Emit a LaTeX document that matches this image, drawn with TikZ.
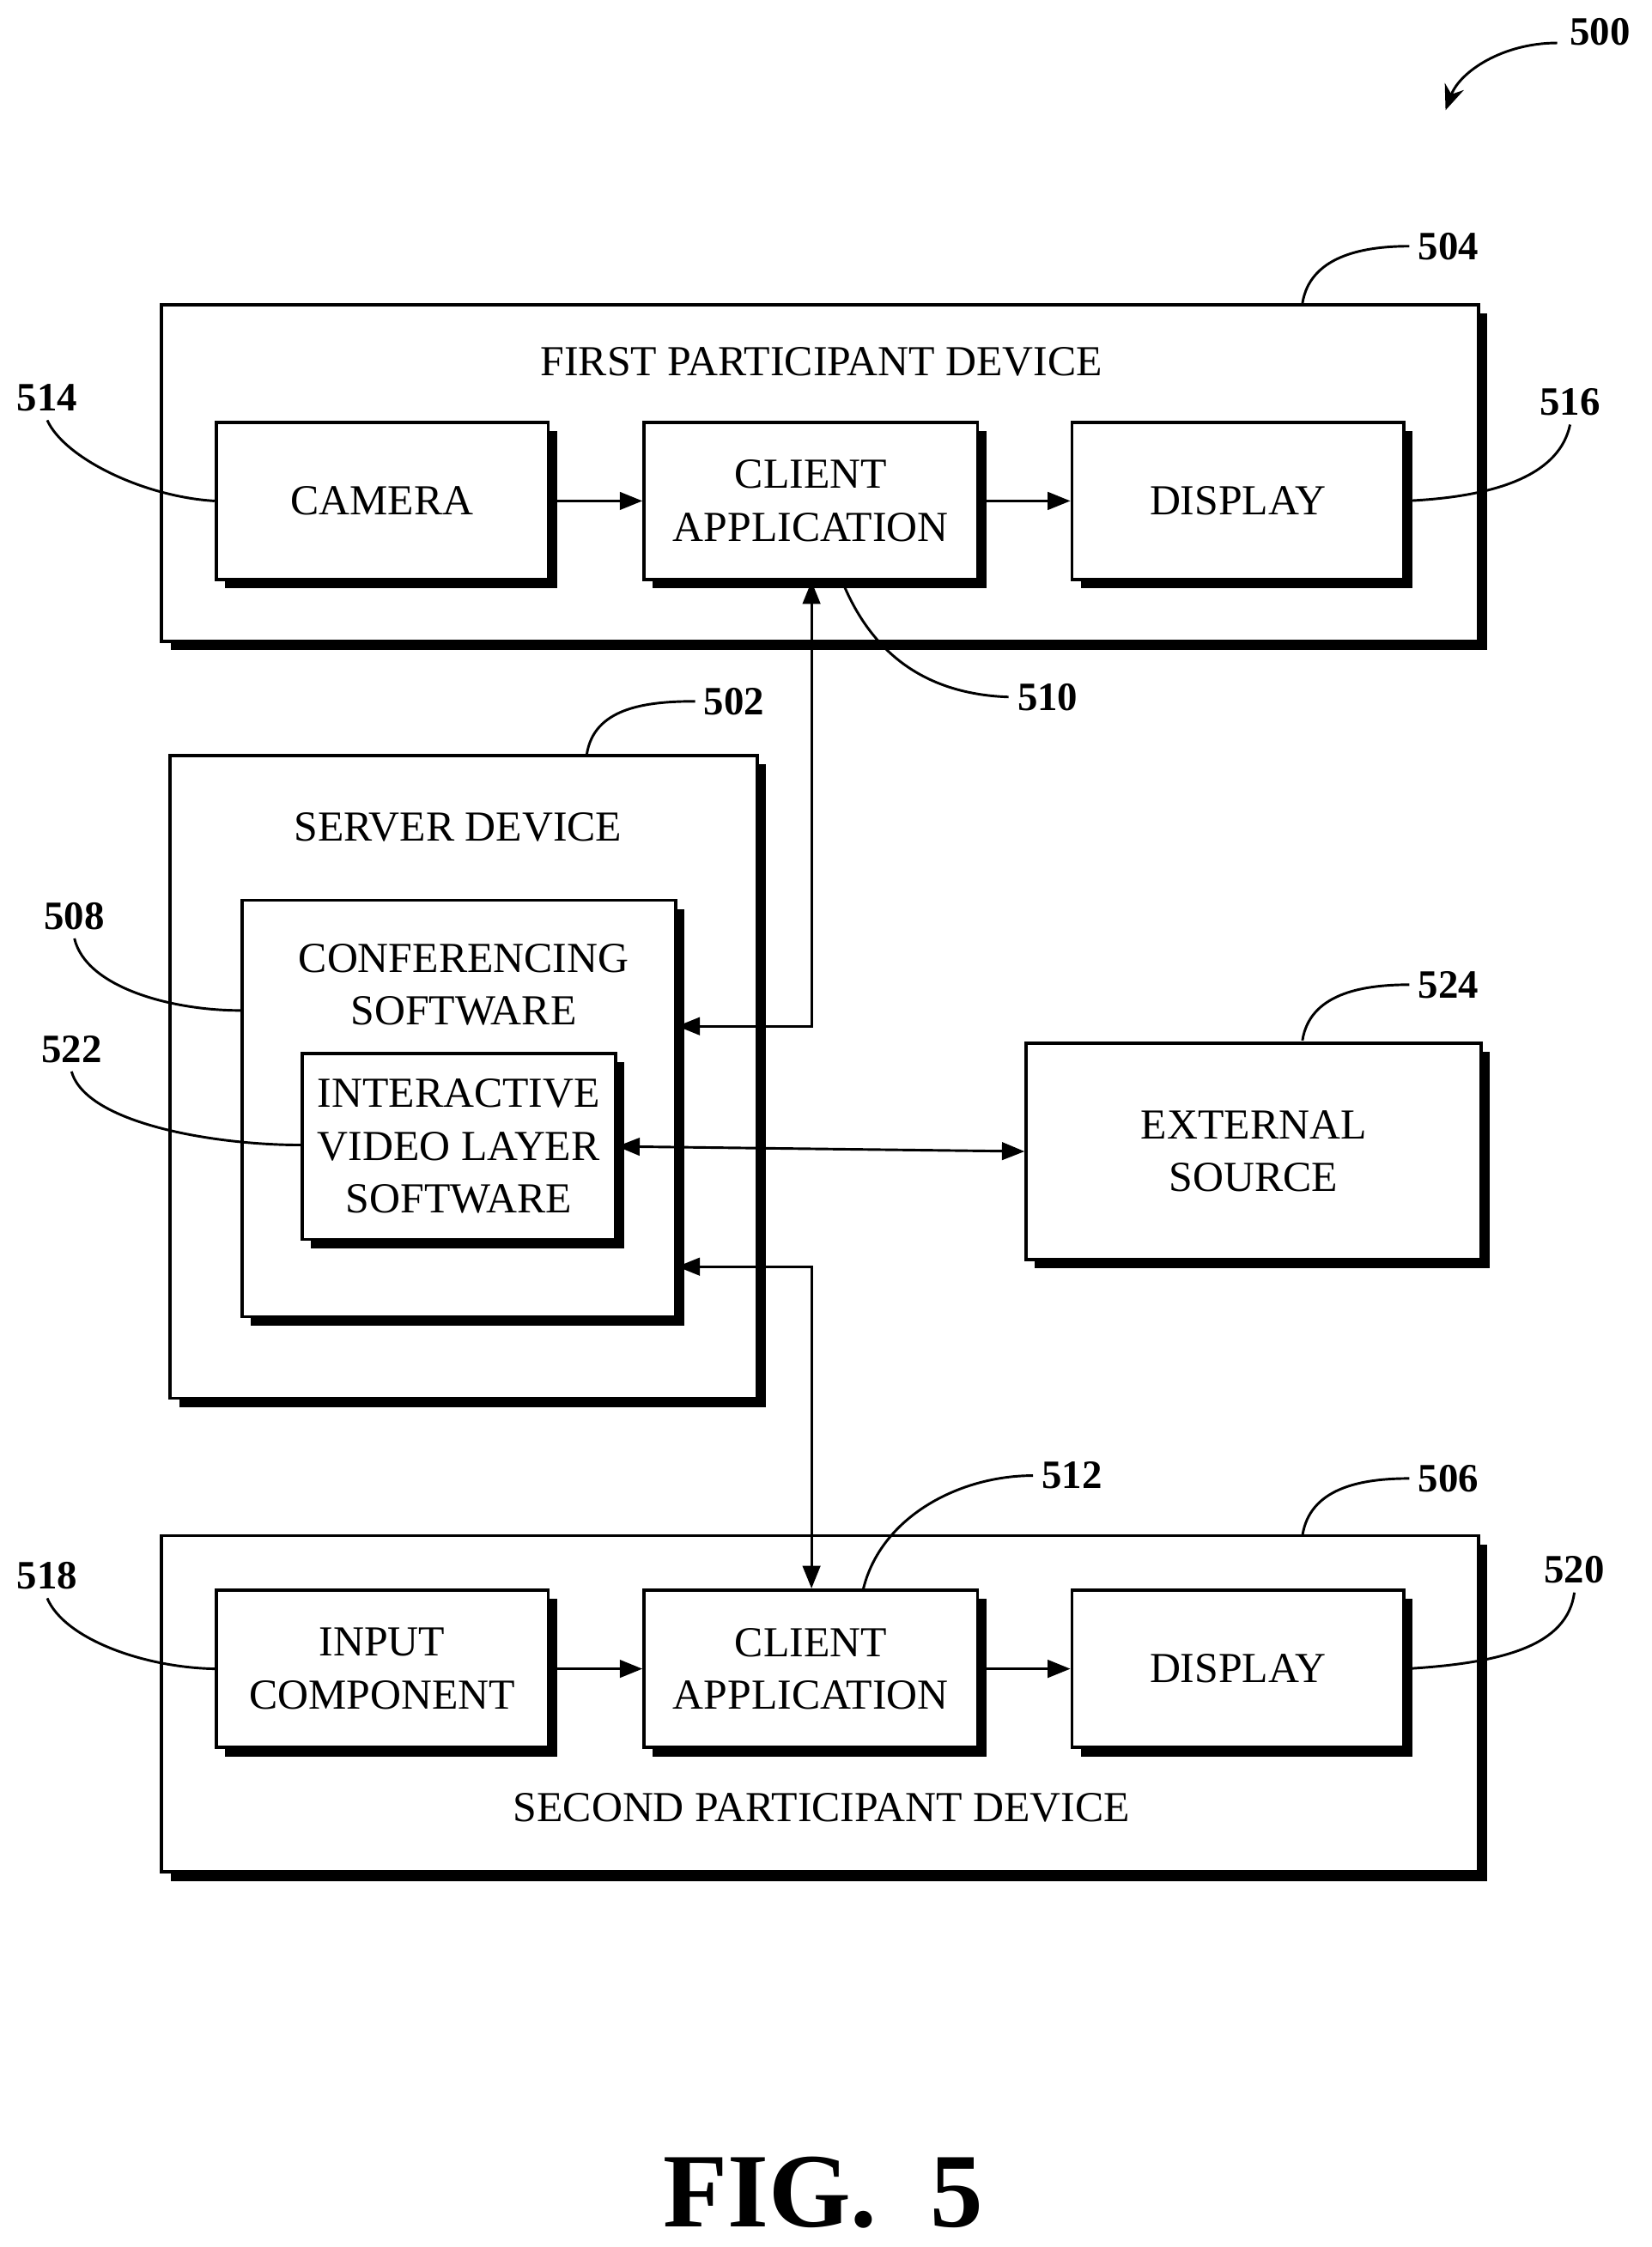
\documentclass[tikz,border=0pt]{standalone}
\usepackage{fontspec}
\setmainfont{Liberation Serif}
\usetikzlibrary{shadows,arrows.meta}
\tikzset{
  box/.style={draw, line width=1.3pt, fill=white, align=center,
    font=\fontsize{17}{21}\selectfont,
    drop shadow={shadow xshift=3.5pt, shadow yshift=-3.5pt, fill=black, opacity=1}},
  frame/.style={box, inner sep=0pt},
  ref/.style={font=\bfseries\fontsize{16}{19}\selectfont},
  lead/.style={line width=1pt},
  link/.style={line width=1pt, {Triangle[length=9pt,width=7pt]}-{Triangle[length=9pt,width=7pt]}},
  flow/.style={line width=1pt, -{Triangle[length=9pt,width=7pt]}}
}
\newcommand{\boxat}[6]{\node[#1, minimum width={(#4-#2)*0.02cm}, minimum height={(#5-#3)*0.02cm}] (#6) at ({(#2+#4)/2},{(#3+#5)/2}) {};}
\begin{document}
\begin{tikzpicture}[x=0.02cm, y=-0.02cm]
\useasboundingbox (0,0) rectangle (1154,1570);
% first participant device
\boxat{frame}{113}{213}{1033}{448}{first}
\node[font=\fontsize{17}{21}\selectfont] (firstt) at (574,253) {FIRST PARTICIPANT DEVICE};
\boxat{box}{151}{295}{383}{405}{camera}
\node[font=\fontsize{17}{21}\selectfont] at (camera) {CAMERA};
\boxat{box}{450}{295}{683}{405}{clientA}
\node[font=\fontsize{17}{21}\selectfont, align=center] at (clientA) {CLIENT\\APPLICATION};
\boxat{box}{749}{295}{981}{405}{displayA}
\node[font=\fontsize{17}{21}\selectfont] at (displayA) {DISPLAY};
% server device
\boxat{frame}{119}{528}{529}{977}{server}
\node[font=\fontsize{17}{21}\selectfont] (servert) at (320,578) {SERVER DEVICE};
\boxat{box}{169}{629}{472}{920}{conf}
\node[font=\fontsize{17}{21}\selectfont, align=center] (conft) at (324,688) {CONFERENCING\\SOFTWARE};
\boxat{box}{211}{736}{430}{866}{layer}
\node[font=\fontsize{17}{21}\selectfont, align=center] at (layer) {INTERACTIVE\\VIDEO LAYER\\SOFTWARE};
% external source
\boxat{box}{717}{729}{1035}{880}{external}
\node[font=\fontsize{17}{21}\selectfont, align=center] at (external) {EXTERNAL\\SOURCE};
% second participant device
\boxat{frame}{113}{1073}{1033}{1308}{second}
\node[font=\fontsize{17}{21}\selectfont] (secondt) at (574,1263) {SECOND PARTICIPANT DEVICE};
\boxat{box}{151}{1111}{383}{1221}{input}
\node[font=\fontsize{17}{21}\selectfont, align=center] at (input) {INPUT\\COMPONENT};
\boxat{box}{450}{1111}{683}{1221}{clientB}
\node[font=\fontsize{17}{21}\selectfont, align=center] at (clientB) {CLIENT\\APPLICATION};
\boxat{box}{749}{1111}{981}{1221}{displayB}
\node[font=\fontsize{17}{21}\selectfont] at (displayB) {DISPLAY};
% connectors
\draw[flow] (camera) -- (clientA);
\draw[flow] (clientA) -- (displayA);
\draw[flow] (input) -- (clientB);
\draw[flow] (clientB) -- (displayB);
\draw[link] (clientA.south -| 567,0) |- (conf.east |- 0,717);
\draw[link] (layer.east) -- (external.west);
\draw[link] (conf.east |- 0,885) -| (clientB.north -| 567,0);
% reference numerals
\node[ref] (n500) at (1118,22) {500};
\draw[lead, -{Stealth[length=10pt,width=8pt]}] (1088,30) .. controls (1050,30) and (1020,50) .. (1010,77);
\node[ref] (n504) at (1012,172) {504};
\draw[lead] (910,212) .. controls (915,180) and (950,172) .. (n504.west);
\node[ref] (n514) at (33,278) {514};
\draw[lead] (n514.south) .. controls (45,320) and (100,347) .. (camera.west);
\node[ref] (n516) at (1097,281) {516};
\draw[lead] (displayA.east) .. controls (1050,347) and (1090,330) .. (n516.south);
\node[ref] (n510) at (732,487) {510};
\draw[lead] (588,405) .. controls (610,460) and (650,485) .. (n510.west);
\node[ref] (n502) at (513,490) {502};
\draw[lead] (410,527) .. controls (415,495) and (450,490) .. (n502.west);
\node[ref] (n508) at (52,640) {508};
\draw[lead] (n508.south) .. controls (60,690) and (120,706) .. (conf.west |- 0,706);
\node[ref] (n522) at (50,733) {522};
\draw[lead] (n522.south) .. controls (60,785) and (150,800) .. (layer.west |- 0,800);
\node[ref] (n524) at (1012,688) {524};
\draw[lead] (910,727) .. controls (915,695) and (950,688) .. (n524.west);
\node[ref] (n512) at (749,1031) {512};
\draw[lead] (603,1111) .. controls (615,1060) and (670,1031) .. (n512.west);
\node[ref] (n506) at (1012,1033) {506};
\draw[lead] (910,1073) .. controls (915,1040) and (950,1033) .. (n506.west);
\node[ref] (n518) at (33,1101) {518};
\draw[lead] (n518.south) .. controls (45,1145) and (100,1165) .. (input.west);
\node[ref] (n520) at (1100,1097) {520};
\draw[lead] (displayB.east) .. controls (1050,1162) and (1095,1150) .. (n520.south);
\node[font=\bfseries\fontsize{42}{48}\selectfont] (fig) at (575,1532) {FIG.\ \ 5};
\end{tikzpicture}
\end{document}
